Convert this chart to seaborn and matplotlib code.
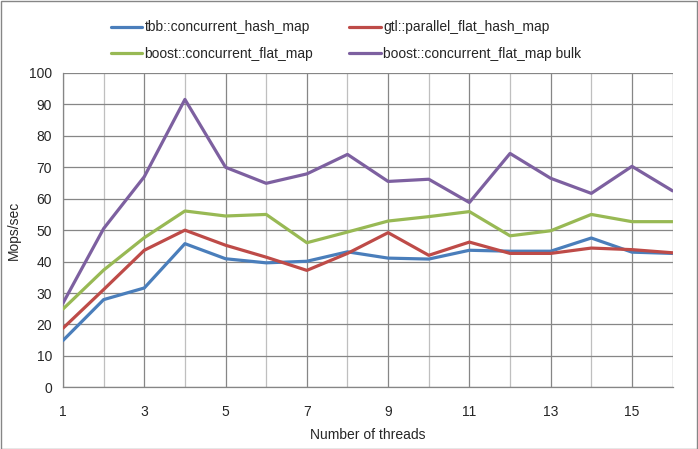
import numpy as np
import pandas as pd
import matplotlib
matplotlib.use("Agg")
import matplotlib.pyplot as plt
import seaborn as sns
from matplotlib.ticker import MultipleLocator
from matplotlib.lines import Line2D

threads = list(range(1, 17))
tbb = [14.9, 27.9, 31.6, 45.7, 40.9, 39.6, 40.1, 43.1, 41.1, 40.8, 43.6, 43.3, 43.3, 47.5, 43.0, 42.6]
gtl = [18.8, 31.1, 43.6, 50.0, 45.2, 41.4, 37.2, 42.6, 49.2, 42.0, 46.2, 42.6, 42.6, 44.3, 43.8, 42.8]
boost = [24.9, 37.3, 47.6, 56.1, 54.5, 55.0, 46.0, 49.4, 52.9, 54.3, 55.9, 48.2, 49.8, 55.0, 52.7, 52.7]
bulk = [26.8, 50.5, 67.0, 91.6, 70.0, 64.9, 67.9, 74.1, 65.5, 66.2, 58.8, 74.4, 66.5, 61.7, 70.3, 62.5]
series_names = ["tbb::concurrent_hash_map", "gtl::parallel_flat_hash_map",
                "boost::concurrent_flat_map", "boost::concurrent_flat_map bulk"]
colors = ["#4A7EBB", "#BE4B48", "#98B954", "#7D60A0"]

rows = []
for name, vals in zip(series_names, [tbb, gtl, boost, bulk]):
    for t, v in zip(threads, vals):
        rows.append({"threads": t, "value": v, "series": name})
df = pd.DataFrame(rows)

sns.set_style("white")
plt.rcParams["font.family"] = ["Liberation Sans", "DejaVu Sans"]

fig = plt.figure(figsize=(6.98, 4.49), dpi=100)
ax = fig.add_axes([63/698, 1 - 387.3/449, (672.6-63)/698, (387.3-73)/449])

# outer chart frame
fig.patches.append(plt.Rectangle((0.5/698, 0.5/449), 696/698, 447.5/449, transform=fig.transFigure,
                                 fill=False, edgecolor="#868686", linewidth=1.0, zorder=0))

sns.lineplot(data=df, x="threads", y="value", hue="series", palette=colors,
             hue_order=series_names, linewidth=2.3, ax=ax, legend=False, zorder=3)

ax.set_xlim(1, 16)
ax.set_ylim(0, 100)
ax.xaxis.set_minor_locator(MultipleLocator(1))
ax.set_xticks(range(1, 17, 2))
ax.yaxis.set_major_locator(MultipleLocator(10))

ax.grid(True, which="major", axis="both", color="#868686", linewidth=0.9)
ax.grid(True, which="minor", axis="x", color="#bfbfbf", linewidth=0.9)
ax.set_axisbelow(True)

for s in ["top", "right"]:
    ax.spines[s].set_visible(False)
for s in ["left", "bottom"]:
    ax.spines[s].set_color("#868686")
    ax.spines[s].set_linewidth(0.9)
ax.axvline(16, color="#bfbfbf", linewidth=0.9, zorder=0.5)

ax.tick_params(axis="x", which="major", length=5, color="#868686", labelsize=10, pad=8)
ax.tick_params(axis="x", which="minor", length=3, color="#868686")
ax.tick_params(axis="y", which="major", length=4, color="#868686", labelsize=10, pad=4)

ax.set_xlabel("Number of threads", fontsize=10, labelpad=6)
ax.set_ylabel("Mops/sec", fontsize=10, labelpad=6)

handles = [Line2D([0], [0], color=c, linewidth=2.3) for c in colors]
order = [0, 2, 1, 3]
fig.legend([handles[i] for i in order], [series_names[i] for i in order],
           loc="upper left", bbox_to_anchor=(98/698, 1 - 8/449),
           ncol=2, frameon=False, fontsize=10, handlelength=2.3, handletextpad=0.15,
           columnspacing=2.6, labelspacing=0.9)

fig.savefig("out.png", dpi=100)
